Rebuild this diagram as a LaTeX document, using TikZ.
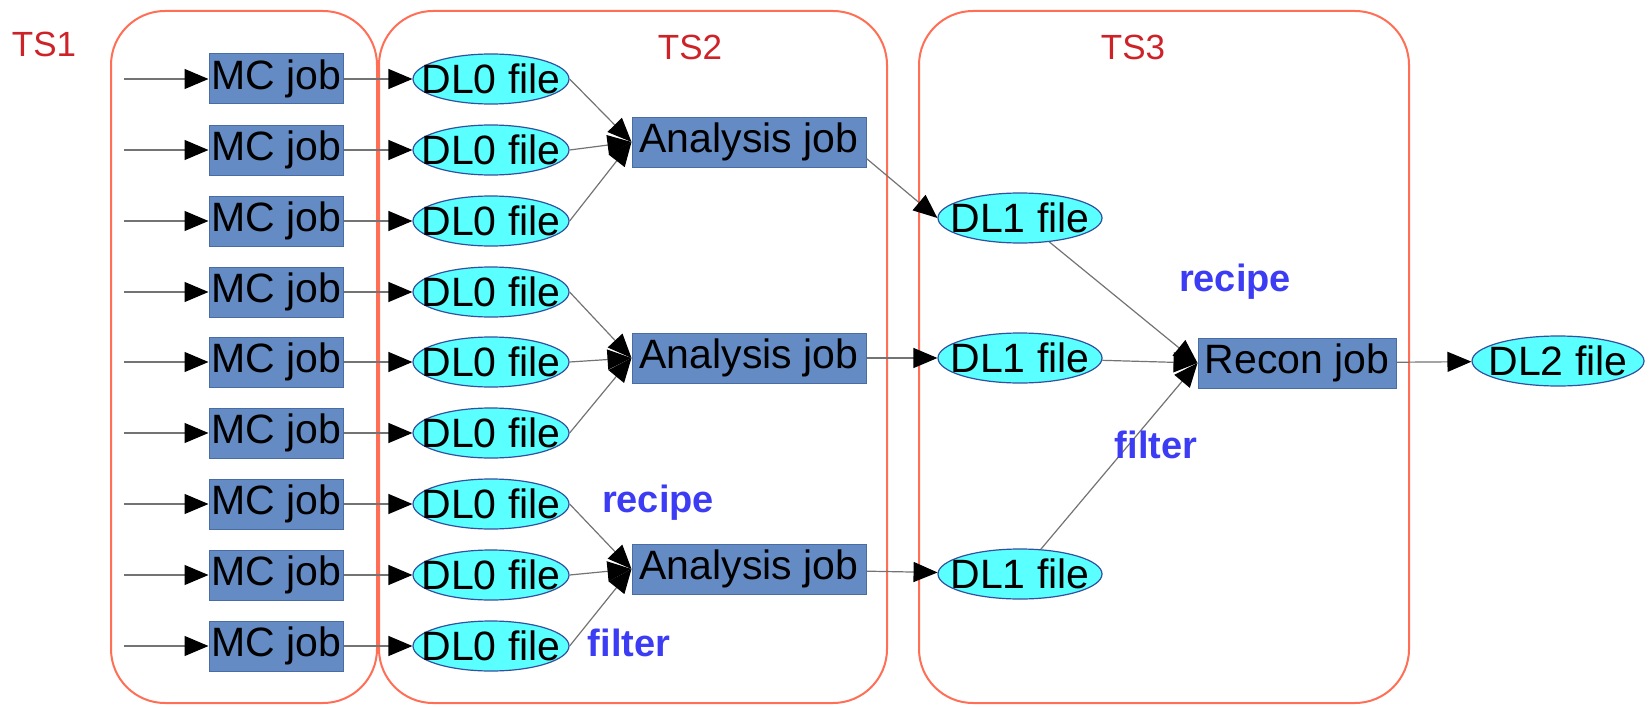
\documentclass[tikz,border=0pt]{standalone}
\usepackage{fontspec}
\setmainfont{Liberation Sans}
\usetikzlibrary{shapes.geometric,arrows.meta}
\definecolor{jobblue}{RGB}{101,139,196}
\definecolor{jobedge}{RGB}{74,108,165}
\definecolor{filecyan}{RGB}{90,255,255}
\definecolor{fileedge}{RGB}{50,80,160}
\definecolor{tsred}{RGB}{205,35,40}
\definecolor{boxline}{RGB}{255,110,85}
\definecolor{lblblue}{RGB}{60,60,245}
\begin{document}
\begin{tikzpicture}[x=0.5pt,y=-0.5pt,
 job/.style={rectangle, draw=jobedge, fill=jobblue, line width=0.5pt, minimum height=25pt, inner sep=0pt, font=\fontsize{20.5}{22}\selectfont},
 file/.style={ellipse, draw=fileedge, fill=filecyan, line width=0.6pt, inner xsep=-30pt, inner ysep=-15pt, minimum height=25pt, font=\fontsize{20.5}{22}\selectfont},
 conn/.style={draw=black!55, line width=0.6pt, -{Triangle[length=12pt,width=10pt,color=black]}},
 tsbox/.style={draw=boxline, line width=1pt, rounded corners=27pt},
 tslabel/.style={text=tsred, font=\fontsize{17.5}{19}\selectfont},
 note/.style={text=lblblue, font=\bfseries\fontsize{19}{21}\selectfont},
]
\useasboundingbox (0,0) rectangle (1652,706);
% stage boxes
\draw[tsbox] (111,11) rectangle (377,703);
\draw[tsbox] (379,11) rectangle (887,703);
\draw[tsbox] (919,11) rectangle (1409,703);
\node[tslabel] (ts1) at (44,44) {TS1};
\node[tslabel] (ts2) at (690,47) {TS2};
\node[tslabel] (ts3) at (1133,47) {TS3};
% MC jobs and DL0 files
\foreach \y [count=\i] in {79,150,221,292,362,433,504,575,646} {
  \coordinate (s\i) at (124,\y);
  \node[job, minimum width=67pt] (mc\i) at (276,\y) {MC job};
  \node[file, minimum width=78pt] (d\i) at (491,\y) {DL0 file};
  \draw[conn] (s\i) -- (mc\i);
  \draw[conn] (mc\i) -- (d\i);
}
% analysis jobs
\node[job, minimum width=117pt] (a1) at (749,142) {Analysis job};
\node[job, minimum width=117pt] (a2) at (749,358) {Analysis job};
\node[job, minimum width=117pt] (a3) at (749,569) {Analysis job};
% DL1 files
\node[file, minimum width=82pt] (e1) at (1020,218) {DL1 file};
\node[file, minimum width=82pt] (e2) at (1020,358) {DL1 file};
\node[file, minimum width=82pt] (e3) at (1020,574) {DL1 file};
% recon and DL2
\node[job, minimum width=99pt] (r) at (1297,363) {Recon job};
\node[file, minimum width=86pt] (f) at (1558,361) {DL2 file};
% connectors
\foreach \i in {1,2,3} \draw[conn] (d\i.east) -- (a1.west);
\foreach \i in {4,5,6} \draw[conn] (d\i.east) -- (a2.west);
\foreach \i in {7,8,9} \draw[conn] (d\i.east) -- (a3.west);
\draw[conn] (a1.-8) -- (e1.west);
\draw[conn] (a2) -- (e2);
\draw[conn] (a3) -- (e3);
\foreach \i in {1,2,3} \draw[conn] (e\i) -- (r.west);
\draw[conn] (r) -- (f);
% labels
\node[note] (rc1) at (658,503) {recipe};
\node[note] (fl1) at (629,643) {filter};
\node[note] (rc2) at (1235,282) {recipe};
\node[note] (fl2) at (1156,445) {filter};
\end{tikzpicture}
\end{document}
